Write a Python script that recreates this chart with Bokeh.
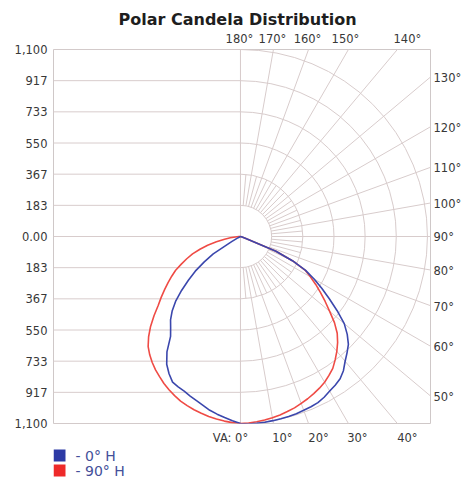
import numpy as np
from bokeh.plotting import figure
from bokeh.layouts import column
from bokeh.models import Range1d, LinearAxis, FixedTicker, Title
from bokeh.core.properties import value
from bokeh.embed import file_html
from bokeh.resources import INLINE

title_text = "Polar Candela Distribution"
angles = [0, 2.5, 5, 7.5, 10, 12.5, 15, 17.5, 20, 22.5, 25, 27.5, 30, 32.5, 35, 37.5, 40, 42.5,
          45, 47.5, 50, 52.5, 55, 57.5, 60, 62.5, 65, 67.5, 70, 72.5, 75, 77.5, 80, 82.5, 85, 87.5, 90]
blue_right = [1105, 1104, 1103, 1102, 1100, 1098, 1096, 1093, 1088, 1084, 1078, 1066, 1050, 1037, 1022, 995,
              958, 928, 898, 852, 797, 717, 638, 567, 500, 432, 337, 226, 30, 10, 0, 0, 0, 0, 0, 0, 0]
red_right = [1100, 1098, 1094, 1089, 1082, 1075, 1066, 1057, 1045, 1033, 1020, 1006, 990, 969, 947, 915,
             882, 846, 805, 750, 685, 628, 575, 525, 475, 428, 337, 226, 30, 10, 0, 0, 0, 0, 0, 0, 0]
blue_left = [1100, 1085, 1069, 1054, 1038, 1018, 1000, 984, 968, 958, 945, 910, 868, 805, 717, 675,
             640, 595, 540, 470, 400, 335, 260, 190, 60, 15, 0, 0, 0, 0, 0, 0, 0, 0, 0, 0, 0]
red_left = [1100, 1096, 1090, 1083, 1075, 1065, 1055, 1043, 1030, 1013, 995, 975, 952, 930, 905, 877,
            845, 800, 748, 690, 632, 588, 545, 505, 467, 430, 384, 342, 300, 250, 200, 145, 95, 60, 30, 10, 0]
tick_values = [1100, 916.67, 733.33, 550, 366.67, 183.33, 0, -183.33, -366.67, -550, -733.33, -916.67, -1100]
tick_labels = ["1,100", "917", "733", "550", "367", "183", "0.00", "183", "367", "550", "733", "917", "1,100"]
ring_values = [183.33, 366.67, 550, 733.33, 916.67, 1100]
angle_ticks = [0, 10, 20, 30, 40, 50, 60, 70, 80, 90, 100, 110, 120, 130, 140, 150, 160, 170, 180]
angle_labels = ["VA: 0°", "10°", "20°", "30°", "40°", "50°", "60°", "70°", "80°", "90°",
                "100°", "110°", "120°", "130°", "140°", "150°", "160°", "170°", "180°"]
legend_labels = ["- 0° H", "- 90° H"]
legend_colors = ["#2d3aa5", "#ee2a2a"]

BLUE = "#3b47ad"
RED = "#ef4b45"
GRID = "#d8cccc"
TXT = "#383838"
FONT = "DejaVu Sans"

W = 466
FL, FR = 53, 430  # frame left / right in page pixels
XMIN, XMAX, YMIN, YMAX = -1100, 1118, -1100, 1100
K = 1100 / 187.0  # data units per pixel

p = figure(width=W, height=447, x_range=Range1d(XMIN, XMAX), y_range=Range1d(YMIN, YMAX),
           output_backend="svg", toolbar_location=None,
           x_axis_location=None, y_axis_location=None,
           min_border_left=FL, min_border_right=W - FR, min_border_top=49, min_border_bottom=24)
p.title = Title(text=title_text, align="left", offset=65, text_font=FONT, text_font_size="16px",
                text_font_style="bold", text_color="#1e1e1e", standoff=0)
p.xgrid.visible = False
p.ygrid.visible = False
p.outline_line_color = "#cfc8c8"
p.background_fill_color = "white"
p.border_fill_color = "white"


def style_axis(ax, standoff):
    ax.axis_line_color = None
    ax.major_tick_line_color = None
    ax.minor_tick_line_color = None
    ax.major_tick_out = 0
    ax.major_tick_in = 0
    ax.major_label_standoff = standoff
    ax.major_label_text_font = FONT
    ax.major_label_text_font_size = "11.5px"
    ax.major_label_text_color = TXT


# left axis with custom labels
yax = LinearAxis(ticker=FixedTicker(ticks=tick_values),
                 major_label_overrides={v: l for v, l in zip(tick_values, tick_labels)})
style_axis(yax, 6)
p.add_layout(yax, "left")

# angle label axes (ticks where the rays meet the frame edges)
bottom_off = {0: -10, 10: 9, 20: 10, 30: 9, 40: 10}
top_off = {180: -1, 170: -1, 160: -1, 150: -3, 140: 10}
bt, bl, rt, rl, tt, tl = [], {}, [], {}, [], {}
for a, lab in zip(angle_ticks, angle_labels):
    t = np.radians(a)
    if a <= 40:
        v = round(float(YMAX * np.tan(t) + bottom_off[a] * K), 2)
        bt.append(v); bl[v] = lab
    elif a <= 130:
        v = round(float(-XMAX * np.cos(t) / np.sin(t) - 1 * K), 2)
        rt.append(v); rl[v] = lab
    else:
        v = round(float(YMAX * np.tan(np.radians(180 - a)) + top_off[a] * K), 2)
        tt.append(v); tl[v] = lab

bax = LinearAxis(ticker=FixedTicker(ticks=bt), major_label_overrides=bl)
style_axis(bax, 7)
p.add_layout(bax, "below")
rax = LinearAxis(ticker=FixedTicker(ticks=rt), major_label_overrides=rl)
style_axis(rax, 3)
rax.major_label_orientation = "horizontal"
p.add_layout(rax, "right")
tax = LinearAxis(ticker=FixedTicker(ticks=tt), major_label_overrides=tl)
style_axis(tax, 4)
p.add_layout(tax, "above")

# left half horizontal grid
p.segment(x0=[XMIN] * len(tick_values), y0=tick_values, x1=[0] * len(tick_values), y1=tick_values,
          line_color=GRID, line_width=1)
p.segment(x0=[0], y0=[YMIN], x1=[0], y1=[YMAX], line_color=GRID, line_width=1)

# right half polar grid
p.arc(x=[0] * len(ring_values), y=[0] * len(ring_values), radius=ring_values,
      start_angle=-np.pi / 2, end_angle=np.pi / 2, line_color=GRID, line_width=1)
th = np.radians(angle_ticks)
r0 = ring_values[0]
r1 = 3000
p.segment(x0=r0 * np.sin(th), y0=-r0 * np.cos(th), x1=r1 * np.sin(th), y1=-r1 * np.cos(th),
          line_color=GRID, line_width=1)
th5 = np.radians([a + 5 for a in angle_ticks[:-1]])
r2 = ring_values[1]
p.segment(x0=r0 * np.sin(th5), y0=-r0 * np.cos(th5), x1=r2 * np.sin(th5), y1=-r2 * np.cos(th5),
          line_color=GRID, line_width=1)


# curves
def curve(left, right):
    a = np.radians(angles)
    l = np.array(left, dtype=float)
    r = np.array(right, dtype=float)
    xs = np.concatenate([(-l * np.sin(a))[::-1], (r * np.sin(a))[1:]])
    ys = np.concatenate([(-l * np.cos(a))[::-1], (-r * np.cos(a))[1:]])
    return xs, ys


xr, yr = curve(red_left, red_right)
xb, yb = curve(blue_left, blue_right)
p.line(xr, yr, line_color=RED, line_width=1.6, line_join="round")
p.line(xb, yb, line_color=BLUE, line_width=1.6, line_join="round")

# legend strip (x in page pixels over the aligned frame, y downward)
LH = 32
lg = figure(width=W, height=LH, x_range=Range1d(FL, FR), y_range=Range1d(LH, 0),
            output_backend="svg", toolbar_location=None, x_axis_location=None, y_axis_location=None,
            min_border_left=FL, min_border_right=W - FR, min_border_top=0, min_border_bottom=0)
lg.xgrid.visible = False
lg.ygrid.visible = False
lg.outline_line_color = None
lg.border_fill_color = "white"
lg.background_fill_color = "white"
rows = [8, 23]
lg.rect(x=[59] * len(legend_labels), y=rows, width=12, height=12,
        fill_color=legend_colors, line_color=None)
lg.text(x=[75] * len(legend_labels), y=rows, text=legend_labels, text_baseline="middle",
        text_align="left", text_font=value(FONT), text_font_size="14px", text_color="#44509a")

open("out.html", "w").write(file_html(column(p, lg, spacing=0), INLINE))
